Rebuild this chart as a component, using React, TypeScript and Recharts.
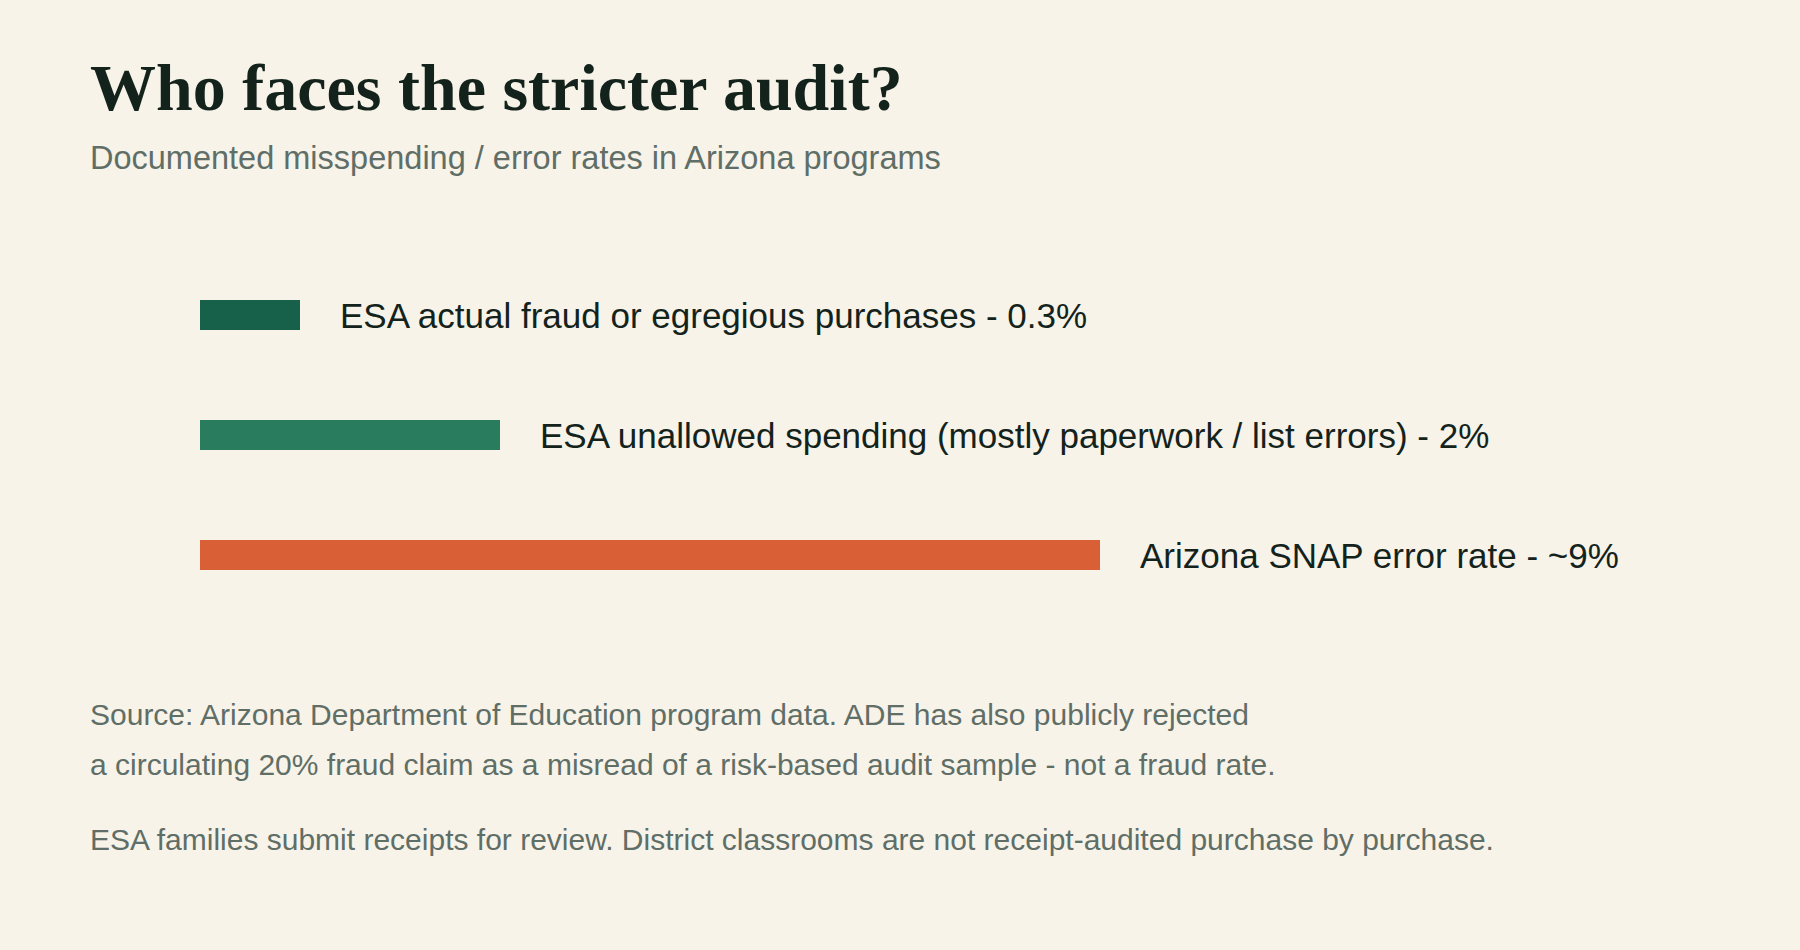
import React from 'react';
import { BarChart, Bar, XAxis, YAxis, Cell, LabelList } from 'recharts';

/**
 * Misspending / error rate comparison, Arizona programs
 */
const programs = [
  'ESA actual fraud or egregious purchases',
  'ESA unallowed spending (mostly paperwork / list errors)',
  'Arizona SNAP error rate',
];
const rateLabels = ['0.3%', '2%', '~9%'];
// bar lengths as drawn in the picture (relative units)
const barLengths = [1, 3, 9];
const barColors = ['#17604a', '#2a7c5e', '#d95f36'];

const footnotes = [
  'Source: Arizona Department of Education program data. ADE has also publicly rejected',
  'a circulating 20% fraud claim as a misread of a risk-based audit sample - not a fraud rate.',
];
const note = 'ESA families submit receipts for review. District classrooms are not receipt-audited purchase by purchase.';

const data = programs.map((name, i) => ({
  name,
  value: barLengths[i],
  label: `${name} - ${rateLabels[i]}`,
}));

const SANS = '"Liberation Sans", Arial, Helvetica, sans-serif';
const INK = '#13231c';
const MUTED = '#5f6e66';

if (typeof document !== 'undefined') {
  document.body.style.margin = '0';
  document.body.style.background = '#f7f3e9';
}

const BarLabel = (props: any) => {
  const { x, y, width, height, value } = props;
  return (
    <text
      x={Number(x) + Number(width) + 40}
      y={Number(y) + Number(height) / 2 + 12.5}
      fill={INK}
      fontSize={35}
      fontFamily={SANS}
    >
      {value}
    </text>
  );
};

export default function App() {
  return (
    <div style={{ position: 'relative', width: 1800, height: 950, background: '#f7f3e9', overflow: 'hidden' }}>
      <div
        style={{
          position: 'absolute', left: 90, top: 52,
          fontFamily: '"Liberation Serif", "DejaVu Serif", serif',
          fontWeight: 700, fontSize: 66, lineHeight: '72px', color: INK,
        }}
      >
        Who faces the stricter audit?
      </div>
      <div
        style={{
          position: 'absolute', left: 90, top: 138,
          fontFamily: SANS, fontSize: 32.5, lineHeight: '40px', color: MUTED,
        }}
      >
        Documented misspending / error rates in Arizona programs
      </div>

      <div style={{ position: 'absolute', left: 0, top: 0 }}>
        <BarChart
          width={1800}
          height={680}
          data={data}
          layout="vertical"
          margin={{ top: 255, right: 400, bottom: 65, left: 200 }}
        >
          <XAxis type="number" domain={[0, 12]} hide />
          <YAxis type="category" dataKey="name" hide />
          <Bar dataKey="value" barSize={30} isAnimationActive={false}>
            {data.map((d, i) => (
              <Cell key={d.name} fill={barColors[i]} />
            ))}
            <LabelList dataKey="label" content={BarLabel} />
          </Bar>
        </BarChart>
      </div>

      <div
        style={{
          position: 'absolute', left: 90, top: 690,
          fontFamily: SANS, fontSize: 30, lineHeight: '50px', color: MUTED,
        }}
      >
        {footnotes.map((t) => (
          <div key={t}>{t}</div>
        ))}
        <div style={{ marginTop: 25 }}>{note}</div>
      </div>
    </div>
  );
}
